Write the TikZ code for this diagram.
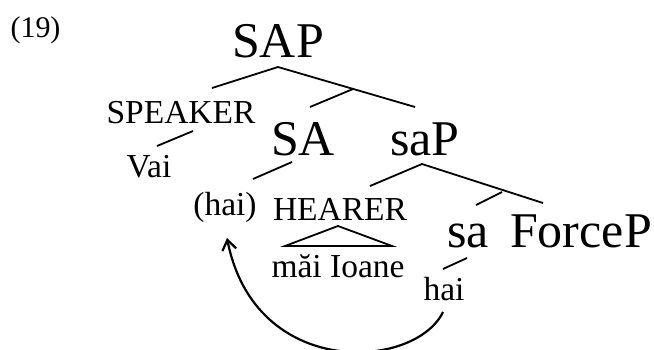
\documentclass[tikz,border=0pt]{standalone}
\usepackage{fontspec}
\setmainfont{Liberation Serif}
\usetikzlibrary{arrows.meta}

\begin{document}
\begin{tikzpicture}[
	x=1pt, y=-1pt,
	every node/.style={inner sep=0pt, anchor=base},
	big/.style={font=\fontsize{50}{50}\selectfont},
	small/.style={font=\fontsize{33.5}{33.5}\selectfont},
	branch/.style={line width=1.8pt},
	move/.style={line width=2.2pt, -{Straight Barb[length=10pt, width=14pt]}}
]
\useasboundingbox (0,0) rectangle (654,349);

\node[font=\fontsize{30}{30}\selectfont] (ex) at (35.5,37) {(19)};

% labels
\node[big] (SAP) at (278,57) {SAP};
\node[small] (SPEAKER) at (181,123) {SPEAKER};
\node[small] (Vai) at (149,177) {Vai};
\node[big] (SA) at (303,155) {SA};
\node[big] (saP) at (425,155) {saP};
\node[small] (haiA) at (225,215) {(hai)};
\node[small] (HEARER) at (340,220) {HEARER};
\node[small] (Ioane) at (338,277) {măi Ioane};
\node[big] (sa) at (468,247) {sa};
\node[big] (ForceP) at (581,247) {ForceP};
\node[small] (haiB) at (444,300) {hai};

% branch ends
\coordinate (SAP-b) at (278,67);
\coordinate (SPEAKER-t) at (212,88);
\coordinate (SAbar) at (353,89);
\coordinate (SA-t) at (310,107);
\coordinate (saP-t) at (415,107);
\coordinate (SPEAKER-b) at (193,131);
\coordinate (Vai-t) at (157,146);
\coordinate (SA-b) at (292,162);
\coordinate (haiA-t) at (253,179);
\coordinate (saP-b) at (422,164);
\coordinate (HEARER-t) at (370,186);
\coordinate (sabar) at (502,192);
\coordinate (sa-t) at (476,205);
\coordinate (ForceP-t) at (543,203);
\coordinate (HEARER-b) at (338,226);
\coordinate (Ioane-l) at (285,246);
\coordinate (Ioane-r) at (392,246);
\coordinate (sa-b) at (467,258);
\coordinate (haiB-t) at (443,269);
\coordinate (haiB-b) at (443,312);
\coordinate (haiA-b) at (227,238);

\draw[branch] (SPEAKER-t) -- (SAP-b) -- (saP-t);
\draw[branch] (SAbar) -- (SA-t);
\draw[branch] (SPEAKER-b) -- (Vai-t);
\draw[branch] (SA-b) -- (haiA-t);
\draw[branch] (HEARER-t) -- (saP-b) -- (ForceP-t);
\draw[branch] (sabar) -- (sa-t);
\draw[branch] (HEARER-b) -- (Ioane-l) -- (Ioane-r) -- cycle;
\draw[branch] (sa-b) -- (haiB-t);

% movement
\draw[move] (haiB-b) .. controls (415,370) and (255,380) .. (haiA-b);
\end{tikzpicture}
\end{document}
